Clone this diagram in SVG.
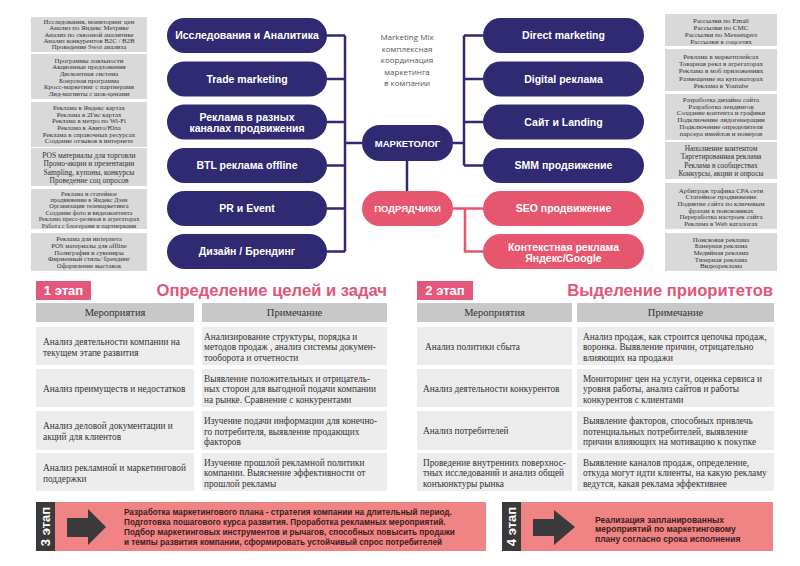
<svg xmlns="http://www.w3.org/2000/svg" width="800" height="566" viewBox="0 0 800 566">
<style>
.pill{fill:#2f2a72}
.pink{fill:#e6566e}
.pt{font-family:"Liberation Sans",Arial,sans-serif;font-weight:bold;font-size:10.5px;fill:#fff;text-anchor:middle}
.box{fill:#d9d9d9}
.bt{font-family:"Liberation Serif","Times New Roman",serif;font-size:6.8px;fill:#333;text-anchor:middle}
.mix{font-family:"Open Sans","Liberation Sans",sans-serif;font-size:8px;fill:#555;text-anchor:middle}
.hdr{fill:#c8c8c8}
.cell{fill:#ececec}
.ht{font-family:"Liberation Serif","Times New Roman",serif;font-size:10.5px;fill:#333;text-anchor:middle}
.tt{font-family:"Liberation Serif","Times New Roman",serif;font-size:9.3px;fill:#333}
.badge{fill:#e3577a}
.bdt{font-family:"Liberation Sans",Arial,sans-serif;font-weight:bold;font-size:13px;fill:#fff;text-anchor:middle}
.title{font-family:"Liberation Sans",Arial,sans-serif;font-weight:bold;font-size:16.6px;fill:#e1557a}
.ban{fill:#f08383}
.dark{fill:#3a3a3a}
.bnt{font-family:"Liberation Sans",Arial,sans-serif;font-weight:bold;font-size:8.2px;fill:#3a1f1f}
.cn{fill:none;stroke:#2f2a72;stroke-width:2.5}
.cp{fill:none;stroke:#e6566e;stroke-width:2.5}
</style>
<rect width="800" height="566" fill="#fff"/>

<g id="connectors">
<path class="cn" d="M327 35.5H345M327 79H345M327 122H345M327 165.5H345M327 208.5H345M327 251.5H345M345 35.5V251.5M345 143H362"/>
<path class="cn" d="M453 143H464M464 35.5V165.5M464 35.5H483M464 79H483M464 122H483M464 165.5H483"/>
<path class="cn" d="M407 161V191"/>
<path class="cp" d="M453 208.5H483M465 208.5V251.5H483"/>
</g>

<g id="n-research"><rect class="pill" x="167" y="18" width="160" height="35" rx="17.5"/><text class="pt" x="247" y="39.3">Исследования и Аналитика</text></g>
<g id="n-trade"><rect class="pill" x="167" y="61.5" width="160" height="35" rx="17.5"/><text class="pt" x="247" y="82.8">Trade marketing</text></g>
<g id="n-ads"><rect class="pill" x="167" y="104.5" width="160" height="35" rx="17.5"/><text class="pt" x="247" y="120.5">Реклама в разных</text><text class="pt" x="247" y="131.5">каналах продвижения</text></g>
<g id="n-btl"><rect class="pill" x="167" y="148" width="160" height="35" rx="17.5"/><text class="pt" x="247" y="169.3">BTL реклама offline</text></g>
<g id="n-pr"><rect class="pill" x="167" y="191" width="160" height="35" rx="17.5"/><text class="pt" x="247" y="212.3">PR и Event</text></g>
<g id="n-design"><rect class="pill" x="167" y="234" width="160" height="35" rx="17.5"/><text class="pt" x="247" y="255.3">Дизайн / Брендинг</text></g>

<g id="n-direct"><rect class="pill" x="483" y="18" width="161" height="35" rx="17.5"/><text class="pt" x="563.5" y="39.3">Direct marketing</text></g>
<g id="n-digital"><rect class="pill" x="483" y="61.5" width="161" height="35" rx="17.5"/><text class="pt" x="563.5" y="82.8">Digital реклама</text></g>
<g id="n-site"><rect class="pill" x="483" y="104.5" width="161" height="35" rx="17.5"/><text class="pt" x="563.5" y="125.8">Сайт и Landing</text></g>
<g id="n-smm"><rect class="pill" x="483" y="148" width="161" height="35" rx="17.5"/><text class="pt" x="563.5" y="169.3">SMM продвижение</text></g>
<g id="n-seo"><rect class="pink" x="483" y="191" width="161" height="35" rx="17.5"/><text class="pt" x="563.5" y="212.3">SEO продвижение</text></g>
<g id="n-context"><rect class="pink" x="483" y="234" width="161" height="35" rx="17.5"/><text class="pt" x="563.5" y="251.3">Контекстная реклама</text><text class="pt" x="563.5" y="262.3">Яндекс/Google</text></g>

<g id="n-marketer"><rect class="pill" x="362" y="125" width="91" height="36" rx="18"/><text class="pt" x="407.5" y="146.8" style="font-size:9.5px">МАРКЕТОЛОГ</text></g>
<g id="n-contractors"><rect class="pink" x="362" y="191" width="91" height="35" rx="17.5"/><text class="pt" x="407.5" y="212.3" style="font-size:9.5px">ПОДРЯДЧИКИ</text></g>

<g id="mix-note">
<text class="mix" x="407" y="39.5">Marketing Mix</text>
<text class="mix" x="407" y="51.5">комплексная</text>
<text class="mix" x="407" y="63">координация</text>
<text class="mix" x="407" y="74.5">маркетинга</text>
<text class="mix" x="407" y="86">в компании</text>
</g>

<g id="left-boxes">
<rect class="box" x="31" y="17" width="116" height="35"/>
<text class="bt" x="89" y="24">Исследования, мониторинг цен</text>
<text class="bt" x="89" y="30.3">Анализ по Яндекс Метрике</text>
<text class="bt" x="89" y="36.6">Анализ по сквозной аналитике</text>
<text class="bt" x="89" y="42.9">Анализ конкурентов B2C / B2B</text>
<text class="bt" x="89" y="49.2">Проведение Swot анализа</text>

<rect class="box" x="31" y="54" width="116" height="45"/>
<text class="bt" x="89" y="62.5">Программы лояльности</text>
<text class="bt" x="89" y="69.2">Акционные предложения</text>
<text class="bt" x="89" y="75.9">Дисконтная система</text>
<text class="bt" x="89" y="82.6">Бонусная программа</text>
<text class="bt" x="89" y="89.3">Кросс-маркетинг с партнерами</text>
<text class="bt" x="89" y="96">Лид-магниты с шок-ценами</text>

<rect class="box" x="31" y="102" width="116" height="45"/>
<text class="bt" x="89" y="109.8">Реклама в Яндекс картах</text>
<text class="bt" x="89" y="116.5">Реклама в 2Гис картах</text>
<text class="bt" x="89" y="123.2">Реклама в метро по Wi-Fi</text>
<text class="bt" x="89" y="129.9">Реклама в Авито/Юла</text>
<text class="bt" x="89" y="136.6">Реклама в справочных ресурсах</text>
<text class="bt" x="89" y="143.3">Создание отзывов в интернете</text>

<rect class="box" x="31" y="148" width="116" height="38"/>
<text class="bt" x="89" y="157.7" style="font-size:7.5px">POS материалы для торговли</text>
<text class="bt" x="89" y="166.2" style="font-size:7.5px">Промо-акции и презентации</text>
<text class="bt" x="89" y="174.7" style="font-size:7.5px">Sampling, купоны, конкурсы</text>
<text class="bt" x="89" y="183.2" style="font-size:7.5px">Проведение соц опросов</text>

<rect class="box" x="31" y="189" width="116" height="40"/>
<text class="bt" x="89" y="195.5" style="font-size:6.4px">Реклама и статейное</text>
<text class="bt" x="89" y="201.9" style="font-size:6.4px">продвижение в Яндекс Дзен</text>
<text class="bt" x="89" y="208.3" style="font-size:6.4px">Организация телемаркетинга</text>
<text class="bt" x="89" y="214.7" style="font-size:6.4px">Создание фото  и видеоконтента</text>
<text class="bt" x="89" y="221.1" style="font-size:6.4px">Реклама пресс-релизов в агрегаторах</text>
<text class="bt" x="89" y="227.5" style="font-size:6.4px">Работа с блогерами и партнерками</text>

<rect class="box" x="31" y="233" width="116" height="38"/>
<text class="bt" x="89" y="241.4" style="font-size:6.7px">Реклама для интернета</text>
<text class="bt" x="89" y="248" style="font-size:6.7px">POS материалы для offline</text>
<text class="bt" x="89" y="254.6" style="font-size:6.7px">Полиграфия и сувениры</text>
<text class="bt" x="89" y="261.2" style="font-size:6.7px">Фирменный стиль/ брендинг</text>
<text class="bt" x="89" y="267.8" style="font-size:6.7px">Оформление выставок</text>
</g>

<g id="right-boxes">
<rect class="box" x="665" y="14" width="112" height="32"/>
<text class="bt" x="721" y="22.5" style="font-size:7px">Рассылки по Email</text>
<text class="bt" x="721" y="29.6" style="font-size:7px">Рассылки по СМС</text>
<text class="bt" x="721" y="36.7" style="font-size:7px">Рассылки по Messengers</text>
<text class="bt" x="721" y="43.8" style="font-size:7px">Рассылки в соцсетях</text>

<rect class="box" x="665" y="49" width="112" height="42"/>
<text class="bt" x="721" y="58.5" style="font-size:7px">Реклама в маркетплейсах</text>
<text class="bt" x="721" y="65.9" style="font-size:7px">Товарная рекл в агрегаторах</text>
<text class="bt" x="721" y="73.3" style="font-size:7px">Реклама в моб приложениях</text>
<text class="bt" x="721" y="80.7" style="font-size:7px">Размещение на купонаторах</text>
<text class="bt" x="721" y="88.1" style="font-size:7px">Реклама в Youtube</text>

<rect class="box" x="665" y="94" width="112" height="46"/>
<text class="bt" x="721" y="101.8" style="font-size:7px">Разработка дизайна сайта</text>
<text class="bt" x="721" y="108.6" style="font-size:7px">Разработка лендингов</text>
<text class="bt" x="721" y="115.4" style="font-size:7px">Создание контента и графики</text>
<text class="bt" x="721" y="122.2" style="font-size:7px">Подключение лидогенерации</text>
<text class="bt" x="721" y="129" style="font-size:7px">Подключение определителя</text>
<text class="bt" x="721" y="135.8" style="font-size:7px">парсера имейлов и номеров</text>

<rect class="box" x="665" y="142" width="112" height="37"/>
<text class="bt" x="721" y="150.8" style="font-size:7.4px">Наполнение контентом</text>
<text class="bt" x="721" y="159.2" style="font-size:7.4px">Таргетированная реклама</text>
<text class="bt" x="721" y="167.6" style="font-size:7.4px">Реклама в сообществах</text>
<text class="bt" x="721" y="176" style="font-size:7.4px">Конкурсы, акции и опросы</text>

<rect class="box" x="665" y="183" width="112" height="46"/>
<text class="bt" x="721" y="192.5" style="font-size:6.9px">Арбитраж трафика CPA сети</text>
<text class="bt" x="721" y="199.2" style="font-size:6.9px">Статейное продвижение</text>
<text class="bt" x="721" y="205.9" style="font-size:6.9px">Поднятие сайта по ключевым</text>
<text class="bt" x="721" y="212.6" style="font-size:6.9px">фразам в поисковиках</text>
<text class="bt" x="721" y="219.3" style="font-size:6.9px">Переработка настроек сайта</text>
<text class="bt" x="721" y="226" style="font-size:6.9px">Реклама в Web каталогах</text>

<rect class="box" x="665" y="233" width="112" height="38"/>
<text class="bt" x="721" y="241.8" style="font-size:6.9px">Поисковая реклама</text>
<text class="bt" x="721" y="248.4" style="font-size:6.9px">Банерная реклама</text>
<text class="bt" x="721" y="255" style="font-size:6.9px">Медийная реклама</text>
<text class="bt" x="721" y="261.6" style="font-size:6.9px">Тизерная реклама</text>
<text class="bt" x="721" y="268.2" style="font-size:6.9px">Видеореклама</text>
</g>

<g id="stage1">
<rect class="badge" x="36" y="281" width="55" height="19"/>
<text class="bdt" x="63.5" y="295.3">1 этап</text>
<text class="title" x="387" y="296" text-anchor="end">Определение целей и задач</text>
<rect class="hdr" x="36" y="303" width="158" height="19"/>
<rect class="hdr" x="202" y="303" width="185" height="19"/>
<text class="ht" x="115" y="315.8">Мероприятия</text>
<text class="ht" x="294.5" y="315.8">Примечание</text>

<rect class="cell" x="36" y="327" width="158" height="38"/>
<rect class="cell" x="202" y="327" width="185" height="38"/>
<text class="tt" x="43" y="344.5">Анализ деятельности компании на</text>
<text class="tt" x="43" y="355.5">текущем этапе развития</text>
<text class="tt" x="204" y="339.5">Анализирование структуры, порядка и</text>
<text class="tt" x="204" y="350">методов продаж , анализ системы докумен-</text>
<text class="tt" x="204" y="360.5">тооборота и отчетности</text>

<rect class="cell" x="36" y="369" width="158" height="38"/>
<rect class="cell" x="202" y="369" width="185" height="38"/>
<text class="tt" x="43" y="391.5">Анализ преимуществ и недостатков</text>
<text class="tt" x="204" y="381.5">Выявление положительных и отрицатель-</text>
<text class="tt" x="204" y="392">ных сторон для выгодной подачи компании</text>
<text class="tt" x="204" y="402.5">на рынке. Сравнение с конкурентами</text>

<rect class="cell" x="36" y="411" width="158" height="39"/>
<rect class="cell" x="202" y="411" width="185" height="39"/>
<text class="tt" x="43" y="429">Анализ деловой документации и</text>
<text class="tt" x="43" y="440">акций для клиентов</text>
<text class="tt" x="204" y="424">Изучение подачи информации для конечно-</text>
<text class="tt" x="204" y="434.5">го потребителя, выявление продающих</text>
<text class="tt" x="204" y="445">факторов</text>

<rect class="cell" x="36" y="453" width="158" height="38"/>
<rect class="cell" x="202" y="453" width="185" height="38"/>
<text class="tt" x="43" y="470.5">Анализ рекламной  и маркетинговой</text>
<text class="tt" x="43" y="481.5">поддержки</text>
<text class="tt" x="204" y="465.5">Изучение прошлой рекламной политики</text>
<text class="tt" x="204" y="476">компании. Выяснение эффективности от</text>
<text class="tt" x="204" y="486.5">прошлой рекламы</text>
</g>

<g id="stage2">
<rect class="badge" x="417" y="281" width="56" height="19"/>
<text class="bdt" x="445" y="295.3">2 этап</text>
<text class="title" x="773" y="296" text-anchor="end">Выделение приоритетов</text>
<rect class="hdr" x="417" y="303" width="155" height="19"/>
<rect class="hdr" x="577" y="303" width="197" height="19"/>
<text class="ht" x="494.5" y="315.8">Мероприятия</text>
<text class="ht" x="675.5" y="315.8">Примечание</text>

<rect class="cell" x="417" y="327" width="155" height="38"/>
<rect class="cell" x="577" y="327" width="197" height="38"/>
<text class="tt" x="425" y="349.5">Анализ политики сбыта</text>
<text class="tt" x="583" y="339.5">Анализ продаж, как строится цепочка продаж,</text>
<text class="tt" x="583" y="350">воронка. Выявление причин, отрицательно</text>
<text class="tt" x="583" y="360.5">влияющих на продажи</text>

<rect class="cell" x="417" y="369" width="155" height="38"/>
<rect class="cell" x="577" y="369" width="197" height="38"/>
<text class="tt" x="423" y="391.5">Анализ  деятельности конкурентов</text>
<text class="tt" x="583" y="381.5">Мониторинг цен на  услуги, оценка сервиса и</text>
<text class="tt" x="583" y="392">уровня работы, анализ сайтов и работы</text>
<text class="tt" x="583" y="402.5">конкурентов с клиентами</text>

<rect class="cell" x="417" y="411" width="155" height="39"/>
<rect class="cell" x="577" y="411" width="197" height="39"/>
<text class="tt" x="423" y="433.5">Анализ потребителей</text>
<text class="tt" x="583" y="424">Выявление факторов, способных привлечь</text>
<text class="tt" x="583" y="434.5">потенциальных потребителей, выявление</text>
<text class="tt" x="583" y="445">причин влияющих на мотивацию к покупке</text>

<rect class="cell" x="417" y="453" width="155" height="38"/>
<rect class="cell" x="577" y="453" width="197" height="38"/>
<text class="tt" x="423" y="465.5">Проведение внутренних  поверхнос-</text>
<text class="tt" x="423" y="476">тных исследований и анализ общей</text>
<text class="tt" x="423" y="486.5">конъюнктуры рынка</text>
<text class="tt" x="583" y="465.5">Выявление каналов продаж, определение,</text>
<text class="tt" x="583" y="476">откуда могут идти клиенты, на какую рекламу</text>
<text class="tt" x="583" y="486.5">ведутся, какая реклама эффективнее</text>
</g>

<g id="stage3">
<rect class="ban" x="55" y="502" width="431" height="49"/>
<rect class="dark" x="36" y="502" width="19" height="49"/>
<text class="bdt" transform="translate(50 526.5) rotate(-90)" x="0" y="0">3 этап</text>
<polygon class="dark" points="67,518 88,518 88,509 106,527 88,545 88,537 67,537"/>
<text class="bnt" x="124" y="515">Разработка  маркетингового плана - стратегия компании на длительный период.</text>
<text class="bnt" x="124" y="525">Подготовка пошагового курса развития. Проработка рекламных мероприятий.</text>
<text class="bnt" x="124" y="535">Подбор маркетинговых инструментов и рычагов, способных повысить продажи</text>
<text class="bnt" x="124" y="545">и темпы развития компании, сформировать устойчивый  спрос потребителей</text>
</g>

<g id="stage4">
<rect class="ban" x="521" y="502" width="252" height="49"/>
<rect class="dark" x="502" y="502" width="19" height="49"/>
<text class="bdt" transform="translate(516 526.5) rotate(-90)" x="0" y="0">4 этап</text>
<polygon class="dark" points="533,519 554,519 554,510 575,527 554,545 554,536 533,536"/>
<text class="bnt" x="595" y="523" style="font-size:8.5px">Реализация запланированных</text>
<text class="bnt" x="595" y="532.3" style="font-size:8.5px">мероприятий по маркетинговому</text>
<text class="bnt" x="595" y="541.6" style="font-size:8.5px">плану согласно срока исполнения</text>
</g>
</svg>
